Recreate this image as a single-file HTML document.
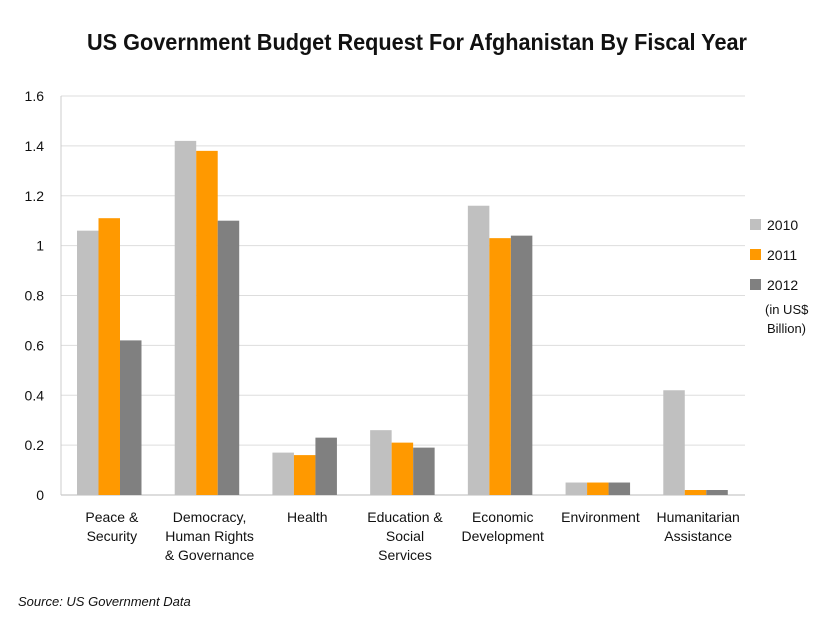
<!DOCTYPE html>
<html><head><meta charset="utf-8"><style>
body{margin:0;background:#fff;}
svg text{font-family:"Liberation Sans Narrow","Liberation Sans",sans-serif;fill:#111;}
</style></head><body>
<svg width="834" height="626" viewBox="0 0 834 626" xmlns="http://www.w3.org/2000/svg">
<rect x="0" y="0" width="834" height="626" fill="#fff"/>
<text x="417" y="50" text-anchor="middle" font-size="23" font-weight="bold" textLength="660" lengthAdjust="spacingAndGlyphs">US Government Budget Request For Afghanistan By Fiscal Year</text>
<g id="grid"></g><g id="bars"></g><g id="xlabels"></g>
<g>
<rect x="750" y="219" width="11" height="11" fill="#c0c0c0"/>
<text x="767" y="230" font-size="14">2010</text>
<rect x="750" y="249" width="11" height="11" fill="#ff9900"/>
<text x="767" y="260" font-size="14">2011</text>
<rect x="750" y="279" width="11" height="11" fill="#808080"/>
<text x="767" y="290" font-size="14">2012</text>
<text x="765" y="314" font-size="13">(in US$</text>
<text x="767" y="333" font-size="13">Billion)</text>
</g>
<text x="18" y="606" font-size="13" font-style="italic">Source: US Government Data</text>
</svg>
<script>
const categories=[["Peace &","Security"],["Democracy,","Human Rights","& Governance"],["Health"],["Education &","Social","Services"],["Economic","Development"],["Environment"],["Humanitarian","Assistance"]];
const s2010=[1.06,1.42,0.17,0.26,1.16,0.05,0.42];
const s2011=[1.11,1.38,0.16,0.21,1.03,0.05,0.02];
const s2012=[0.62,1.10,0.23,0.19,1.04,0.05,0.02];
const ticks=[0,0.2,0.4,0.6,0.8,1,1.2,1.4,1.6];
const tickLabels=["0","0.2","0.4","0.6","0.8","1","1.2","1.4","1.6"];
const NS="http://www.w3.org/2000/svg";
const x0=61,x1=745,y0=495,yTop=96,ymax=1.6;
const y=v=>y0-(v/ymax)*(y0-yTop);
const gw=(x1-x0)/categories.length;
function mk(t,a,p){const e=document.createElementNS(NS,t);for(const k in a)e.setAttribute(k,a[k]);p.appendChild(e);return e;}
const G=document.getElementById('grid'),B=document.getElementById('bars'),L=document.getElementById('xlabels');
ticks.forEach((t,i)=>{
 const ln=mk('line',{x1:x0,x2:x1,y1:y(t),y2:y(t),stroke:i==0?'#bbb':'#ddd','stroke-width':1},G);
 
 
 const tx=mk('text',{x:44,y:y(t)+5,'text-anchor':'end','font-size':14},G);
 tx.textContent=tickLabels[i];
 
 
});
const ax=mk('line',{x1:x0,x2:x0,y1:yTop,y2:y0,stroke:'#ccc'},G);


const series=[[s2010,'#c0c0c0'],[s2011,'#ff9900'],[s2012,'#808080']];
const bw=21.5;
categories.forEach((c,i)=>{
 const gx=x0+i*gw+16;
 series.forEach((s,j)=>{
  const r=mk('rect',{x:gx+j*bw,y:y(s[0][i]),width:bw,height:y0-y(s[0][i]),fill:s[1]},B);
  
  
 });
 c.forEach((line,k)=>{
  const t=mk('text',{x:x0+i*gw+gw/2+2,y:522+k*19,'text-anchor':'middle','font-size':14},L);
  t.textContent=line;
  
  
 });
});
</script>
</body></html>
